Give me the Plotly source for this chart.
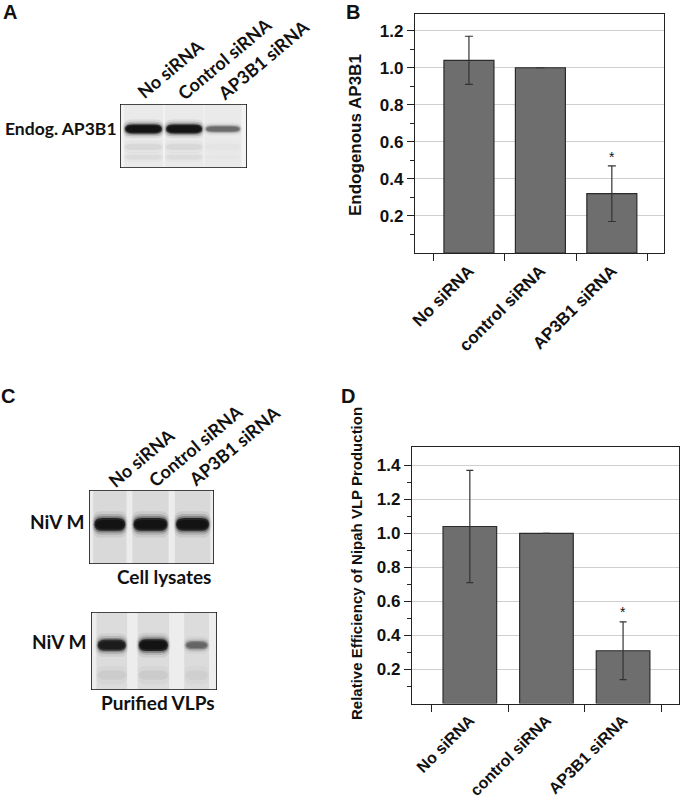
import plotly.graph_objects as go

# ---------------- data ----------------
categories = ["No siRNA", "control siRNA", "AP3B1 siRNA"]
endog_ap3b1 = [1.04, 1.00, 0.32]
endog_err = [0.13, 0.0, 0.15]
vlp_eff = [1.04, 1.00, 0.31]
vlp_err = [0.33, 0.0, 0.17]
b_ticks = [0.2, 0.4, 0.6, 0.8, 1.0, 1.2]
b_minor = [0.1, 0.3, 0.5, 0.7, 0.9, 1.1]
d_ticks = [0.2, 0.4, 0.6, 0.8, 1.0, 1.2, 1.4]
d_minor = [0.1, 0.3, 0.5, 0.7, 0.9, 1.1, 1.3]

blot_lanes = ["No siRNA", "Control siRNA", "AP3B1 siRNA"]
# band darkness (0..1) read from the blots
blotA_band = [1.0, 1.0, 0.38]
blotC_lysate_band = [1.0, 1.0, 1.0]
blotC_vlp_band = [0.88, 1.0, 0.38]

W, H = 680, 800
def px(x):
    return x / W
def py(y):
    return 1 - y / H

BAR_FONT = "Liberation Sans, Arial, sans-serif"
BLOT_FONT = "Lato, Open Sans, sans-serif"

fig = go.Figure()

# ---------------- bar charts ----------------
fig.add_trace(go.Bar(
    x=categories, y=endog_ap3b1, width=0.7,
    marker=dict(color="#6e6e6e", line=dict(color="#2b2b2b", width=1.2)),
    error_y=dict(type="data", array=endog_err, visible=True, color="#333333",
                 thickness=1.2, width=4),
    xaxis="x", yaxis="y", showlegend=False, hoverinfo="x+y"))
fig.add_trace(go.Bar(
    x=categories, y=vlp_eff, width=0.7,
    marker=dict(color="#6e6e6e", line=dict(color="#2b2b2b", width=1.2)),
    error_y=dict(type="data", array=vlp_err, visible=True, color="#333333",
                 thickness=1.2, width=3.5),
    xaxis="x2", yaxis="y2", showlegend=False, hoverinfo="x+y"))

# invisible anchors for the blot panels
for ax in ["3", "4", "5"]:
    fig.add_trace(go.Scatter(x=[0.5, 1.5, 2.5], y=[0.5, 0.5, 0.5], mode="markers",
                             marker=dict(opacity=0), xaxis="x" + ax, yaxis="y" + ax,
                             showlegend=False, hoverinfo="skip"))

def bar_xaxis(domain, fsize, anchor):
    return dict(domain=domain, anchor=anchor, type="category", range=[-0.755, 2.73],
                tickson="boundaries", ticks="outside", ticklen=7, tickwidth=1.2,
                tickcolor="#222", tickangle=-45,
                tickfont=dict(family=BAR_FONT, size=fsize, color="#111", weight=700),
                showline=True, linecolor="#222", linewidth=1.2, mirror=True,
                showgrid=False, zeroline=False, fixedrange=True, automargin=False)

def bar_yaxis(domain, rng, ticks, minor, anchor):
    return dict(domain=domain, anchor=anchor, range=rng, tickmode="array", tickvals=ticks,
                ticktext=[f"{t:.1f}" for t in ticks],
                ticks="outside", ticklen=7, tickwidth=1.2, tickcolor="#222",
                tickfont=dict(family=BAR_FONT, size=17, color="#111", weight=700),
                showline=True, linecolor="#222", linewidth=1.2, mirror=True,
                showgrid=True, gridcolor="#cfcfcf", gridwidth=1,
                zeroline=False, fixedrange=True, automargin=False,
                minor=dict(tickmode="array", tickvals=minor, ticks="outside",
                           ticklen=4, tickwidth=1.2, tickcolor="#222", showgrid=False))

blot_ax = dict(visible=False, fixedrange=True, showgrid=False, zeroline=False)

fig.update_layout(
    width=W, height=H, autosize=False,
    margin=dict(l=0, r=0, t=0, b=0),
    paper_bgcolor="white", plot_bgcolor="white",
    xaxis=bar_xaxis([px(415), px(664)], 17, "y"),
    yaxis=bar_yaxis([py(253), py(14)], [0, 1.29], b_ticks, b_minor, "x"),
    xaxis2=bar_xaxis([px(412), px(679)], 16, "y2"),
    yaxis2=bar_yaxis([py(703.5), py(446.5)], [0, 1.51], d_ticks, d_minor, "x2"),
    xaxis3=dict(domain=[px(120), px(247)], range=[0, 3], anchor="y3", **blot_ax),
    yaxis3=dict(domain=[py(168), py(104)], range=[0, 1], anchor="x3", **blot_ax),
    xaxis4=dict(domain=[px(89), px(214)], range=[0, 3], anchor="y4", **blot_ax),
    yaxis4=dict(domain=[py(564), py(490)], range=[0, 1], anchor="x4", **blot_ax),
    xaxis5=dict(domain=[px(91), px(217)], range=[0, 3], anchor="y5", **blot_ax),
    yaxis5=dict(domain=[py(690), py(612)], range=[0, 1], anchor="x5", **blot_ax),
    bargap=0.3,
)

shapes = []
annotations = []

def band_path(xa, xb, yc, hh, r):
    y0, y1 = yc - hh, yc + hh
    return (f"M {xa + r},{y0} L {xb - r},{y0} Q {xb},{y0} {xb},{yc} "
            f"Q {xb},{y1} {xb - r},{y1} L {xa + r},{y1} Q {xa},{y1} {xa},{yc} "
            f"Q {xa},{y0} {xa + r},{y0} Z")

def add_blot(ax, bg, lane_shade, darkness, yc, hh, lanes_x, faint):
    xr, yr = "x" + ax, "y" + ax
    shapes.append(dict(type="rect", xref=xr, yref=yr, x0=0, x1=3, y0=0, y1=1,
                       fillcolor=bg, line=dict(width=0), layer="below"))
    for (xa, xb) in lanes_x:
        shapes.append(dict(type="rect", xref=xr, yref=yr, x0=xa - 0.03, x1=xb + 0.03,
                           y0=0, y1=1, fillcolor=f"rgba(0,0,0,{lane_shade})",
                           line=dict(width=0), layer="below"))
    for (fy, fd, fh) in faint:
        for i, (xa, xb) in enumerate(lanes_x):
            d = fd[i]
            if d <= 0:
                continue
            for (ex, sc, al) in [(0.04, 2.0, 0.5), (0.0, 1.0, 1.0)]:
                shapes.append(dict(type="path", xref=xr, yref=yr,
                                   path=band_path(xa - ex, xb + ex, fy, fh * sc, 0.2),
                                   fillcolor=f"rgba(0,0,0,{round(d * al, 3)})",
                                   line=dict(width=0), layer="below"))
    for i, (xa, xb) in enumerate(lanes_x):
        d = darkness[i]
        h = hh * (0.55 + 0.45 * d)
        layers = [(0.06, 2.1, 0.07), (0.04, 1.65, 0.14), (0.02, 1.3, 0.3),
                  (0.0, 1.0, 0.75), (-0.03, 0.7, 0.6)]
        for (ex, sc, al) in layers:
            shapes.append(dict(type="path", xref=xr, yref=yr,
                               path=band_path(xa - ex, xb + ex, yc, h * sc, 0.2),
                               fillcolor=f"rgba(8,8,8,{round(al * d, 3)})",
                               line=dict(width=0), layer="below"))
    shapes.append(dict(type="rect", xref=xr, yref=yr, x0=0, x1=3, y0=0, y1=1,
                       fillcolor="rgba(0,0,0,0)", line=dict(color="#111", width=1.6),
                       layer="above"))

add_blot("3", "#f3f3f3", 0.035, blotA_band, 0.61, 0.07,
         [(0.12, 0.99), (1.09, 1.94), (2.02, 2.84)],
         [(0.33, [0.05, 0.05, 0.015], 0.05), (0.17, [0.035, 0.035, 0.01], 0.04)])
add_blot("4", "#ececec", 0.08, blotC_lysate_band, 0.535, 0.085,
         [(0.13, 0.87), (1.07, 1.88), (2.09, 2.88)], [])
add_blot("5", "#ededed", 0.07, blotC_vlp_band, 0.575, 0.075,
         [(0.16, 0.83), (1.14, 1.83), (2.25, 2.78)],
         [(0.19, [0.045, 0.05, 0.035], 0.06)])

def ann(x, y, text, size, family, angle=0, xanchor="center", yanchor="middle",
        weight=700, xref="paper", yref="paper"):
    annotations.append(dict(x=x, y=y, xref=xref, yref=yref, text=text,
                            showarrow=False, textangle=angle,
                            xanchor=xanchor, yanchor=yanchor,
                            font=dict(family=family, size=size, color="#111",
                                      weight=weight)))

# panel letters
ann(px(10), py(12), "A", 20, BAR_FONT)
ann(px(353), py(12), "B", 20, BAR_FONT)
ann(px(8), py(396), "C", 20, BAR_FONT)
ann(px(348), py(396), "D", 20, BAR_FONT)

# blot A labels
ann(px(119), py(128), "Endog. AP3B1", 17.5, BLOT_FONT, xanchor="right")
for (cx, cy), lab in zip([(170, 69), (224, 59), (263, 60)], blot_lanes):
    ann(px(cx), py(cy), lab, 18, BLOT_FONT, angle=-40)

# blot C labels
for (cx, cy), lab in zip([(141, 458), (195, 446), (234, 446)], blot_lanes):
    ann(px(cx), py(cy), lab, 18, BLOT_FONT, angle=-40)
ann(px(86), py(521), "NiV M", 19, BLOT_FONT, xanchor="right")
ann(px(88), py(641), "NiV M", 19, BLOT_FONT, xanchor="right")
ann(px(213), py(576), "Cell lysates", 19, BLOT_FONT, xanchor="right")
ann(px(217), py(702), "Purified VLPs", 19, BLOT_FONT, xanchor="right")

# bar chart y titles
ann(px(356), py(135), "Endogenous AP3B1", 17, BAR_FONT, angle=-90)
ann(px(356), py(564), "Relative Efficiency of Nipah VLP Production", 15, BAR_FONT, angle=-90)

# significance asterisks
ann(categories[2], 0.52, "*", 14, BAR_FONT, weight=400, xref="x", yref="y")
ann(categories[2], 0.535, "*", 14, BAR_FONT, weight=400, xref="x2", yref="y2")

fig.update_layout(shapes=shapes, annotations=annotations)
fig.write_html("out.html", config={"displayModeBar": False},
               post_script="document.body.style.margin='0px';")
